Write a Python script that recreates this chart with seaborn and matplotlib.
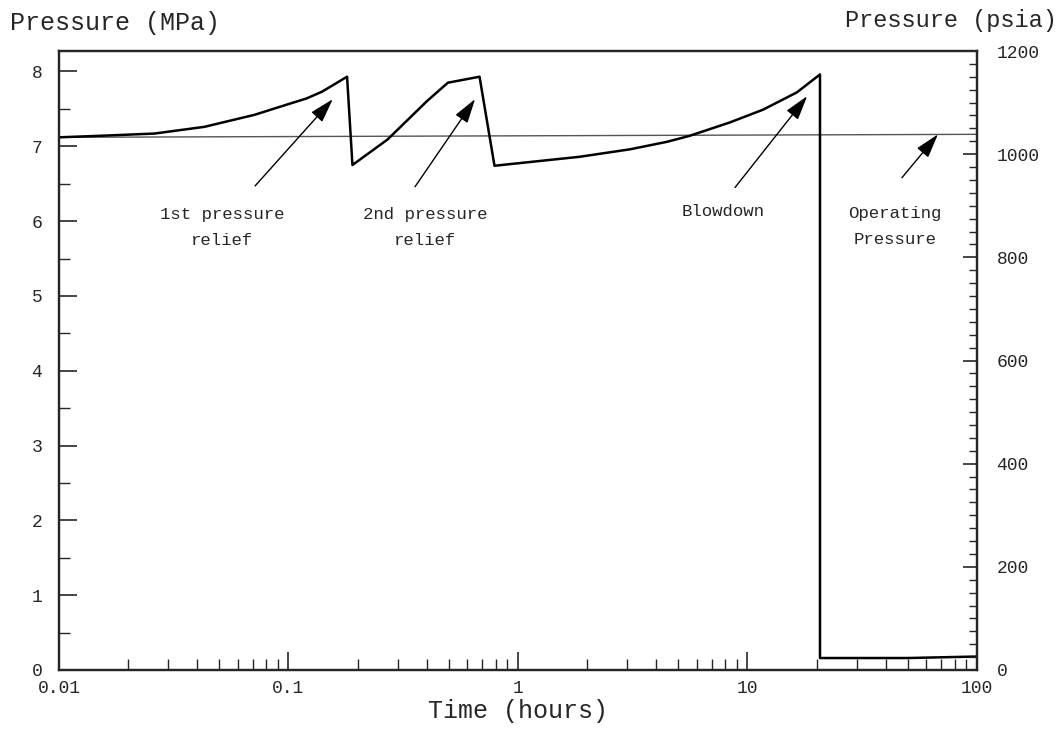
import numpy as np
import pandas as pd
import matplotlib
matplotlib.use("Agg")
import matplotlib.pyplot as plt
import seaborn as sns
from matplotlib.ticker import LogLocator, MultipleLocator, NullFormatter, FixedLocator

# Pressão do vaso (MPa) ao longo do tempo (horas)
tempo = [0.01, 0.015, 0.026, 0.043, 0.071, 0.099, 0.12, 0.14, 0.18, 0.19,
         0.27, 0.40, 0.495, 0.68, 0.79, 1.86, 3.08, 4.46, 5.6, 8.4, 11.7,
         16.4, 20.7, 20.7, 50.0, 100.0]
pressao = [7.12, 7.14, 7.17, 7.26, 7.42, 7.56, 7.64, 7.73, 7.93, 6.75,
           7.09, 7.60, 7.85, 7.93, 6.74, 6.86, 6.96, 7.06, 7.14, 7.32, 7.49,
           7.72, 7.96, 0.16, 0.16, 0.18]

# Pressão de operação (linha de referência)
op_tempo = [0.01, 100.0]
op_pressao = [7.12, 7.16]

MPA_PSI = 145.04
Y_MAX = 1200 / MPA_PSI

df = pd.DataFrame({"tempo": tempo, "pressao": pressao})
df_op = pd.DataFrame({"tempo": op_tempo, "pressao": op_pressao})

sns.set_style("ticks")
plt.rcParams["font.family"] = ["Liberation Mono", "DejaVu Sans Mono"]

fig = plt.figure(figsize=(10.61, 7.34), dpi=100)
ax = fig.add_axes([0.0556, 0.0872, 0.8652, 0.8433])
ax.set_xscale("log")

sns.lineplot(data=df_op, x="tempo", y="pressao", ax=ax, color="#555555",
             lw=1.0, sort=False, estimator=None)
sns.lineplot(data=df, x="tempo", y="pressao", ax=ax, color="black",
             lw=1.8, sort=False, estimator=None)

ax.set_xlim(0.01, 100)
ax.set_ylim(0, Y_MAX)
ax.set_xlabel("Time (hours)", fontsize=18, labelpad=2)
ax.set_ylabel("")

ax.xaxis.set_minor_locator(LogLocator(base=10, subs=np.arange(2, 10), numticks=20))
ax.xaxis.set_minor_formatter(NullFormatter())
ax.set_xticks([0.01, 0.1, 1, 10, 100])
ax.set_xticklabels(["0.01", "0.1", "1", "10", "100"])
ax.yaxis.set_major_locator(MultipleLocator(1))
ax.yaxis.set_minor_locator(MultipleLocator(0.5))

ax.tick_params(which="major", direction="in", length=13, width=1.2, labelsize=13)
ax.tick_params(which="minor", direction="in", length=8, width=1.0)
ax.tick_params(axis="x", pad=7)
ax.tick_params(axis="y", pad=12)
for s in ax.spines.values():
    s.set_linewidth(1.6)
    s.set_visible(True)

# Eixo direito em psia
ax2 = ax.twinx()
ax2.set_ylim(0, 1200)
ax2.yaxis.set_major_locator(FixedLocator([0, 200, 400, 600, 800, 1000, 1200]))
ax2.yaxis.set_minor_locator(MultipleLocator(25))
ax2.tick_params(which="major", direction="in", length=10, width=1.2, labelsize=13, pad=14)
ax2.tick_params(which="minor", direction="in", length=6, width=1.0)
for s in ax2.spines.values():
    s.set_linewidth(1.6)

fig.text(0.009, 0.968, "Pressure (MPa)", fontsize=18, ha="left", va="center")
fig.text(0.996, 0.972, "Pressure (psia)", fontsize=17, ha="right", va="center")

# Anotações
seta = dict(arrowstyle="-|>,head_length=1.5,head_width=0.45", color="black",
            lw=1.0, shrinkA=0, shrinkB=0)
notas = [
    ("1st pressure\nrelief", (0.156, 7.63), (0.0715, 6.47), (0.0513, 5.91)),
    ("2nd pressure\nrelief", (0.65, 7.63), (0.356, 6.46), (0.394, 5.91)),
    ("Blowdown", (18.2, 7.67), (8.83, 6.45), (7.82, 6.13)),
    ("Operating\nPressure", (67.6, 7.16), (47.1, 6.58), (44.0, 5.93)),
]
for texto, ponta, cauda, pos in notas:
    ax.annotate("", xy=ponta, xytext=cauda, arrowprops=seta)
    ax.text(pos[0], pos[1], texto, ha="center", va="center", fontsize=12.5,
            linespacing=1.9)

fig.savefig("out.png", dpi=100)
